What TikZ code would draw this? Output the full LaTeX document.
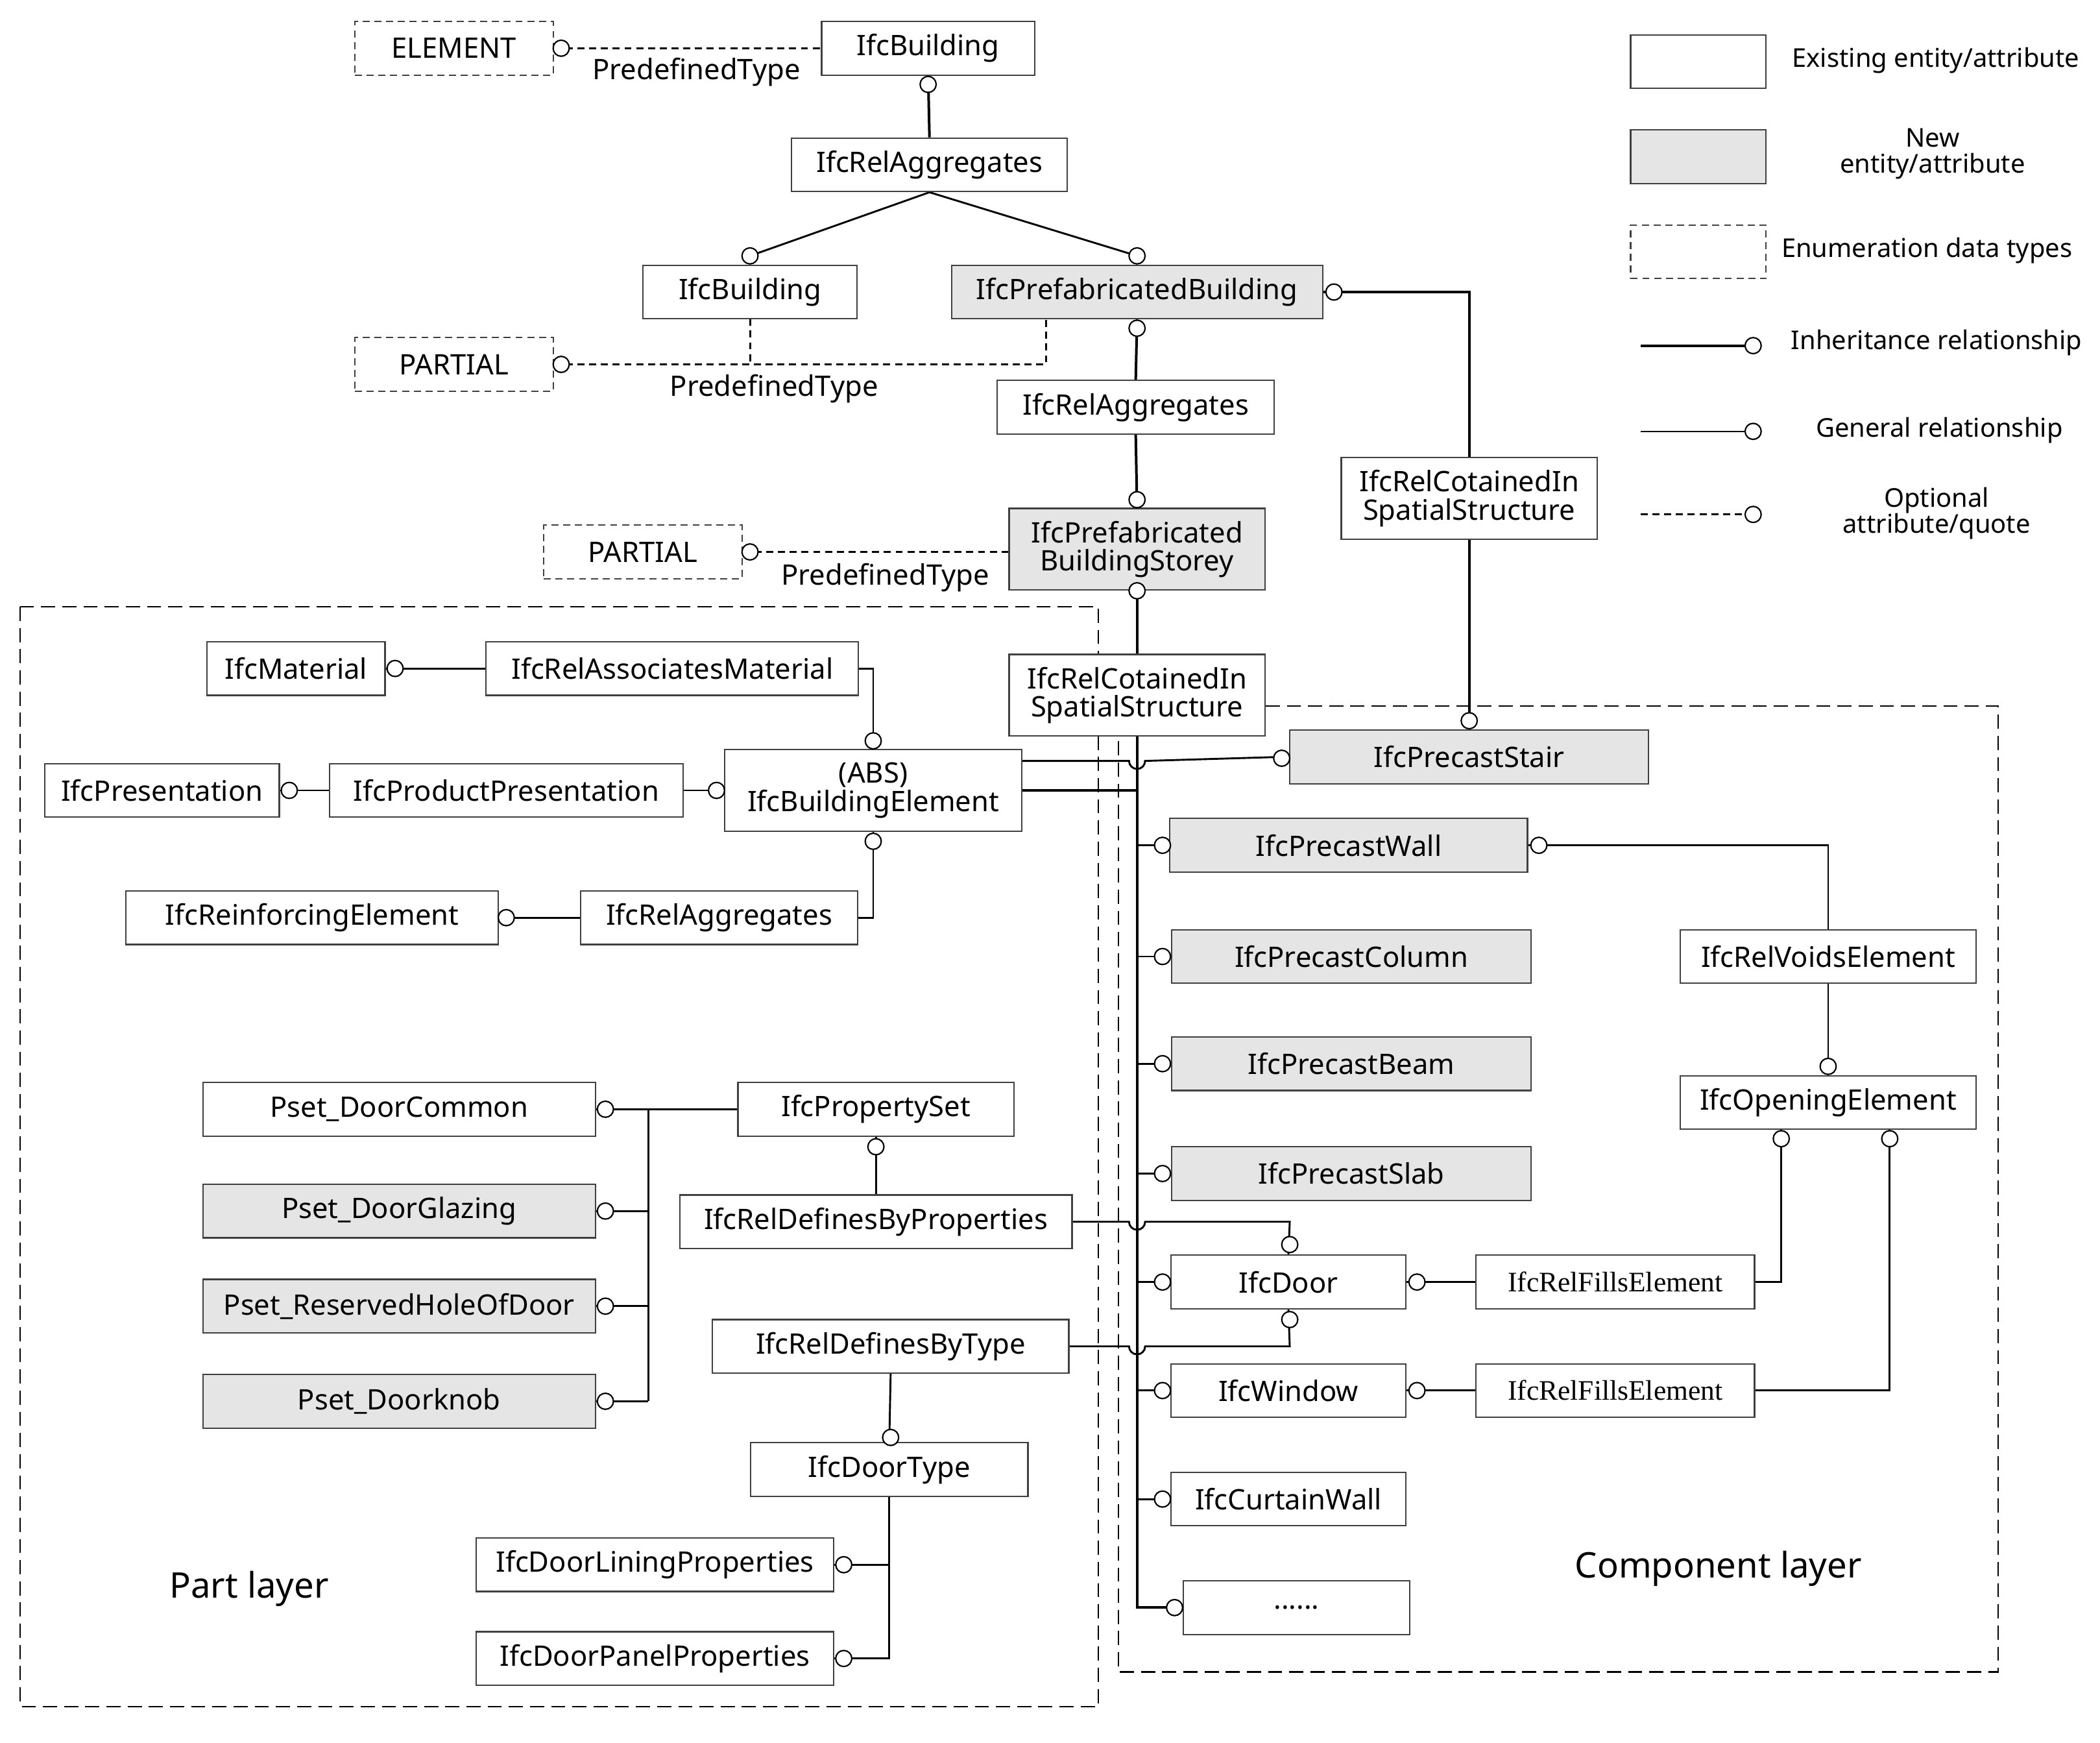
\documentclass[tikz,border=0pt]{standalone}
\usepackage{fontspec}
\setmainfont{Noto Sans}
\newfontfamily\serifa{Liberation Serif}
\pgfdeclarelayer{bg}
\pgfsetlayers{bg,main}
\begin{document}
\begin{tikzpicture}[x=0.02cm,y=-0.02cm,line width=0.7pt,
 font=\fontsize{12}{14}\selectfont,
 bx/.style={draw=black!75,fill=white,line width=0.6pt,align=center,inner sep=1pt},
 gy/.style={bx,fill=black!10},
 en/.style={bx,dash pattern=on 3pt off 2pt},
 oc/.style={circle,draw,fill=white,inner sep=0pt,minimum size=0.24cm,line width=0.6pt},
 opt/.style={dash pattern=on 3pt off 2pt},
 thk/.style={line width=1.1pt},
 reg/.style={line width=0.6pt,dash pattern=on 6pt off 3pt}]
\useasboundingbox (0,0) rectangle (1568,1301);
\newcommand{\bx}[7]{\node[#6,minimum width=#4*0.02cm,minimum height=#5*0.02cm] (#1) at (#2,#3) {#7};}
\newcommand{\oc}[3]{\node[oc] (#1) at (#2,#3) {};}
% boxes
\bx{elem}{339}{36}{148}{40}{en}{ELEMENT}
\bx{b1}{693}{36}{159}{40}{bx}{IfcBuilding}
\bx{ra1}{694}{123}{206}{40}{bx}{IfcRelAggregates}
\bx{b2}{560}{218}{160}{40}{bx}{IfcBuilding}
\bx{pb}{849}{218}{277}{40}{gy}{IfcPrefabricatedBuilding}
\bx{p1}{339}{272}{148}{40}{en}{PARTIAL}
\bx{ra2}{848}{304}{207}{40}{bx}{IfcRelAggregates}
\bx{rc1}{1097}{372}{191}{61}{bx}{IfcRelCotainedIn\\[-2pt]SpatialStructure}
\bx{st}{849}{410}{191}{61}{gy}{IfcPrefabricated\\[-2pt]BuildingStorey}
\bx{p2}{480}{412}{148}{40}{en}{PARTIAL}
\bx{rc2}{849}{519}{191}{61}{bx}{IfcRelCotainedIn\\[-2pt]SpatialStructure}
\bx{mat}{221}{499}{133}{40}{bx}{IfcMaterial}
\bx{ram}{502}{499}{278}{40}{bx}{IfcRelAssociatesMaterial}
\bx{pres}{121}{590}{175}{40}{bx}{IfcPresentation}
\bx{ppres}{378}{590}{264}{40}{bx}{IfcProductPresentation}
\bx{abs}{652}{590}{222}{61}{bx}{(ABS)\\[-2pt]IfcBuildingElement}
\bx{reinf}{233}{685}{278}{40}{bx}{IfcReinforcingElement}
\bx{ra3}{537}{685}{207}{40}{bx}{IfcRelAggregates}
\bx{stair}{1097}{565}{268}{40}{gy}{IfcPrecastStair}
\bx{wall}{1007}{631}{267}{40}{gy}{IfcPrecastWall}
\bx{col}{1009}{714}{268}{40}{gy}{IfcPrecastColumn}
\bx{beam}{1009}{794}{268}{40}{gy}{IfcPrecastBeam}
\bx{slab}{1009}{876}{268}{40}{gy}{IfcPrecastSlab}
\bx{voids}{1365}{714}{221}{40}{bx}{IfcRelVoidsElement}
\bx{open}{1365}{823}{221}{40}{bx}{IfcOpeningElement}
\bx{door}{962}{957}{175}{40}{bx}{IfcDoor}
\bx{rf1}{1206}{957}{208}{40}{bx,font=\serifa\fontsize{12}{14}\selectfont}{IfcRelFillsElement}
\bx{win}{962}{1038}{175}{40}{bx}{IfcWindow}
\bx{rf2}{1206}{1038}{208}{40}{bx,font=\serifa\fontsize{12}{14}\selectfont}{IfcRelFillsElement}
\bx{cw}{962}{1119}{175}{40}{bx}{IfcCurtainWall}
\bx{dots}{968}{1200}{169}{40}{bx}{......}
\bx{pdc}{298}{828}{293}{40}{bx}{Pset\_DoorCommon}
\bx{pdg}{298}{904}{293}{40}{gy}{Pset\_DoorGlazing}
\bx{prh}{298}{975}{293}{40}{gy}{Pset\_ReservedHoleOfDoor}
\bx{pdk}{298}{1046}{293}{40}{gy}{Pset\_Doorknob}
\bx{ps}{654}{828}{206}{40}{bx}{IfcPropertySet}
\bx{rdp}{654}{912}{293}{40}{bx}{IfcRelDefinesByProperties}
\bx{rdt}{665}{1005}{266}{40}{bx}{IfcRelDefinesByType}
\bx{dt}{664}{1097}{207}{40}{bx}{IfcDoorType}
\bx{dlp}{489}{1168}{267}{40}{bx}{IfcDoorLiningProperties}
\bx{dpp}{489}{1238}{267}{40}{bx}{IfcDoorPanelProperties}
\node[font=\fontsize{15}{17}\selectfont] (pl) at (186,1186) {Part layer};
\node[font=\fontsize{15}{17}\selectfont] (cl) at (1283,1171) {Component layer};
\begin{pgfonlayer}{bg}
\begin{scope}[line width=0.8pt,draw=black]
% regions
\draw[reg] (15,453) rectangle (820,1274);
\draw[reg] (945,527) -- (1492,527) -- (1492,1248) -- (835,1248) -- (835,527);
% top part
\draw[opt] (elem.east) -- (b1.west);
\draw[thk] (b1.south) -- (ra1.north);
\draw (ra1.south) -- (560,191); \draw (ra1.south) -- (849,191);
\draw[opt] (p1.east) -- (781,272) -- (781,238);
\draw[opt] (560,238) -- (560,272);
\draw[thk] (pb.south) -- (ra2.north);
\draw[thk] (ra2.south) -- (st.north);
\draw[thk] (pb.east) -- (1097,218) -- (rc1.north);
\draw[thk] (rc1.south) -- (stair.north);
\draw[opt] (p2.east) -- (st.west|-p2.east);
\draw[thk] (st.south) -- (rc2.north);
% trunk
\draw[thk] (rc2.south) -- (849,1200) -- (877,1200);
\foreach \y in {631,714,794,876,957,1038,1119}{\draw (849,\y) -- (868,\y);}
\draw (763,568) -- (843,568) arc (180:0:6) -- (957,565);
\draw[thk] (763,590) -- (849,590);
% part layer left
\draw (mat.east) -- (ram.west);
\draw (ram.east) -- (652,499) -- (abs.north);
\draw (pres.east) -- (ppres.west);
\draw (ppres.east) -- (abs.west);
\draw (abs.south) -- (652,685) -- (ra3.east);
\draw (ra3.west) -- (reinf.east);
\draw (pdc.east) -- (484,828) -- (ps.west);
\draw (484,828) -- (484,1046);
\foreach \b in {pdg,prh,pdk}{\draw (\b.east) -- (484,0|-\b.east);}
\draw (ps.south) -- (rdp.north);
\draw (rdp.east) -- (843,912) arc (180:0:6) -- (963,912) -- (door.north);
\draw (rdt.east) -- (843,1005) arc (180:0:6) -- (963,1005) -- (door.south);
\draw (rdt.south) -- (dt.north);
\draw (dt.south) -- (664,1238) -- (dpp.east); \draw (664,1168) -- (dlp.east);
% component right
\draw (door.east) -- (rf1.west);
\draw (win.east) -- (rf2.west);
\draw (rf1.east) -- (1330,957) -- (1330,843);
\draw (rf2.east) -- (1411,1038) -- (1411,843);
\draw (wall.east) -- (1365,631) -- (voids.north);
\draw (voids.south) -- (open.north);
% legend lines
\draw[thk] (1225,258) -- (1309,258);
\draw[line width=0.6pt] (1225,322) -- (1309,322);
\draw[opt] (1225,384) -- (1309,384);
\end{scope}
\end{pgfonlayer}
% circles
\oc{c1}{419}{36}\oc{c2}{693}{63}\oc{c3}{560}{191}\oc{c4}{849}{191}\oc{c5}{419}{272}
\oc{c6}{849}{245}\oc{c7}{849}{373}\oc{c8}{996}{218}\oc{c9}{1097}{538}\oc{c10}{560}{412}
\oc{c11}{849}{441}\oc{c12}{877}{1200}\oc{c13}{957}{566}
\foreach \y in {631,714,794,876,957,1038,1119}{\node[oc] at (868,\y) {};}
\oc{c14}{295}{499}\oc{c15}{652}{553}\oc{c16}{216}{590}\oc{c17}{535}{590}\oc{c18}{652}{628}\oc{c19}{378}{685}
\foreach \b in {pdc,pdg,prh,pdk}{\node[oc] at ([xshift=0.14cm]\b.east) {};}
\oc{c20}{654}{856}\oc{c21}{963}{929}\oc{c22}{963}{985}\oc{c23}{665}{1073}\oc{c24}{630}{1168}\oc{c25}{630}{1238}
\oc{c26}{1058}{957}\oc{c27}{1058}{1038}\oc{c28}{1330}{850}\oc{c29}{1411}{850}\oc{c30}{1149}{631}\oc{c31}{1365}{796}
% labels
\node (l1) at (520,54) {PredefinedType};
\node (l2) at (578,290) {PredefinedType};
\node (l3) at (661,431) {PredefinedType};
% legend
\begin{scope}[font=\fontsize{11}{13}\selectfont]
\bx{lg1}{1268}{46}{101}{40}{bx}{}
\node[anchor=west] (lt1) at (1332,45) {Existing entity/attribute};
\bx{lg2}{1268}{117}{101}{40}{gy}{}
\node[align=center] (lt2) at (1443,115) {New\\[-2pt]entity/attribute};
\bx{lg3}{1268}{188}{101}{40}{en}{}
\node[anchor=west] (lt3) at (1324,187) {Enumeration data types};
\oc{lc1}{1309}{258}
\node (lt4) at (1446,256) {Inheritance relationship};
\oc{lc2}{1309}{322}
\node (lt5) at (1448,321) {General relationship};
\oc{lc3}{1309}{384}
\node[align=center] (lt6) at (1446,383) {Optional\\[-2pt]attribute/quote};
\end{scope}
\end{tikzpicture}
\end{document}
